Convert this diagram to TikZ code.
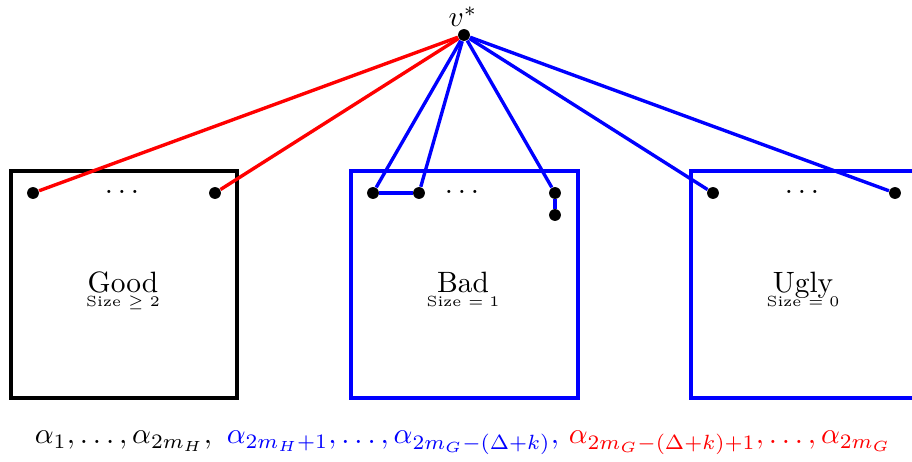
\documentclass[tikz,border=0pt]{standalone}
\usepackage{amsmath,amssymb}
\begin{document}
\begin{tikzpicture}[x=0.34pt,y=-0.34pt,
  dot/.style={circle,fill=black,inner sep=0pt,minimum size=4pt},
  box/.style={line width=1.15pt},
  edge/.style={line width=1.15pt},
  title/.style={anchor=base,font=\normalsize,inner sep=0pt},
  sub/.style={anchor=base,font=\tiny,inner sep=0pt},
  dd/.style={anchor=base,inner sep=0pt}]
\useasboundingbox (0,0) rectangle (912,462);
% boxes
\draw[box,black] (11,171) rectangle (237,398);
\draw[box,blue] (351,171) rectangle (578,398);
\draw[box,blue] (691,171) rectangle (918,398);
% vertices
\node[dot] (v) at (464,35) {};
\node[anchor=base,inner sep=0pt] (vl) at (463,27) {$v^*$};
\node[dot] (g1) at (33,193) {};
\node[dot] (g2) at (215,193) {};
\node[dot] (b1) at (373,193) {};
\node[dot] (b2) at (419,193) {};
\node[dot] (b3) at (555,193) {};
\node[dot] (b4) at (555,215) {};
\node[dot] (u1) at (713,193) {};
\node[dot] (u2) at (895,193) {};
\node[dd] (gd) at (122,194) {$\ldots$};
\node[dd] (bd) at (462,194) {$\ldots$};
\node[dd] (ud) at (802,194) {$\ldots$};
% edges
\draw[edge,red] (v) -- (g1);
\draw[edge,red] (v) -- (g2);
\draw[edge,blue] (v) -- (b1);
\draw[edge,blue] (b1) -- (b2);
\draw[edge,blue] (v) -- (b2);
\draw[edge,blue] (v) -- (b3);
\draw[edge,blue] (b3) -- (b4);
\draw[edge,blue] (v) -- (u1);
\draw[edge,blue] (v) -- (u2);
% redraw dots on top
\foreach \n in {v,g1,g2,b1,b2,b3,b4,u1,u2} \fill (\n) circle (1.9pt);
% labels
\node[title] (good) at (123,293) {Good};
\node[sub] (goods) at (123,306) {Size $\geq 2$};
\node[title] (bad) at (463,293) {Bad};
\node[sub] (bads) at (463,306) {Size $= 1$};
\node[title] (ugly) at (803,293) {Ugly};
\node[sub] (uglys) at (803,306) {Size $= 0$};
% bottom formula
\node[anchor=base,inner sep=0pt] (f) at (463,444) {$\alpha_1,\ldots,\alpha_{2m_H},\ \textcolor{blue}{\alpha_{2m_H+1},\ldots,\alpha_{2m_G-(\Delta+k)},}\ \textcolor{red}{\alpha_{2m_G-(\Delta+k)+1},\ldots,\alpha_{2m_G}}$};
\end{tikzpicture}
\end{document}
